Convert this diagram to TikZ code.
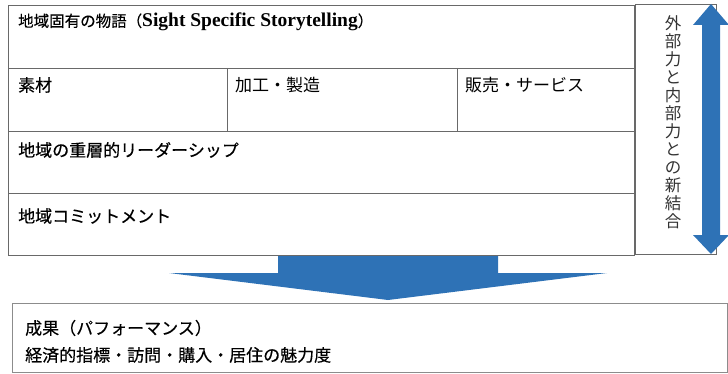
\documentclass[tikz,border=0pt]{standalone}
\usepackage{fontspec}
\setmainfont{Noto Sans CJK JP}
\newfontfamily\jpbold{Noto Sans CJK JP}[FakeBold=0.35]
\newfontfamily\latinserif{Liberation Serif}
\definecolor{arrowblue}{RGB}{46,114,182}
\definecolor{linegray}{RGB}{105,105,105}
\definecolor{boxgray}{RGB}{140,140,140}
\tikzset{
  cellline/.style={draw=linegray, line width=0.9pt},
  outline/.style={draw=boxgray, line width=1pt},
  label/.style={anchor=west, inner sep=0pt, font=\jpbold\fontsize{17}{20}\selectfont},
  plainlabel/.style={anchor=west, inner sep=0pt, font=\fontsize{17}{20}\selectfont},
  bluearrow/.style={fill=arrowblue, draw=none}
}
\begin{document}
\begin{tikzpicture}[x=1pt,y=-1pt]
\useasboundingbox (0,0) rectangle (728,374);
% main grid
\draw[cellline] (8,5) rectangle (634,255);
\draw[cellline] (8,68) -- (634,68);
\draw[cellline] (8,131) -- (634,131);
\draw[cellline] (8,193) -- (634,193);
\draw[cellline] (227,68) -- (227,131);
\draw[cellline] (457,68) -- (457,131);
% right box
\draw[cellline] (635,4) rectangle (716,254);
% texts
\node[label, font=\jpbold\fontsize{15.5}{18}\selectfont] (t1) at (18,22) {地域固有の物語（{\latinserif\bfseries\fontsize{19.5}{20}\selectfont Sight Specific Storytelling}）};
\node[label] (t2a) at (18,85) {素材};
\node[plainlabel] (t2b) at (235,85) {加工・製造};
\node[plainlabel] (t2c) at (465,85) {販売・サービス};
\node[label] (t3) at (18,150) {地域の重層的リーダーシップ};
\node[label] (t4) at (18,216) {地域コミットメント};
\node[inner sep=0pt, align=center, text=black!80, font=\fontsize{16.5}{18}\selectfont] (vt) at (673,122)
  {外\\部\\力\\と\\内\\部\\力\\と\\の\\新\\結\\合};
% double arrow
\fill[bluearrow] (711,4) -- (729,25) -- (720,25) -- (720,235) -- (729,235) -- (711,254)
  -- (693,235) -- (702,235) -- (702,25) -- (693,25) -- cycle;
% big down arrow
\fill[bluearrow] (278,256) -- (498,256) -- (498,273) -- (607,273) -- (388,300)
  -- (169,273) -- (278,273) -- cycle;
% bottom box
\draw[outline] (12,303) rectangle (727,372);
\node[label] (b1) at (25,328) {成果（パフォーマンス）};
\node[label] (b2) at (25,355) {経済的指標・訪問・購入・居住の魅力度};
\end{tikzpicture}
\end{document}
